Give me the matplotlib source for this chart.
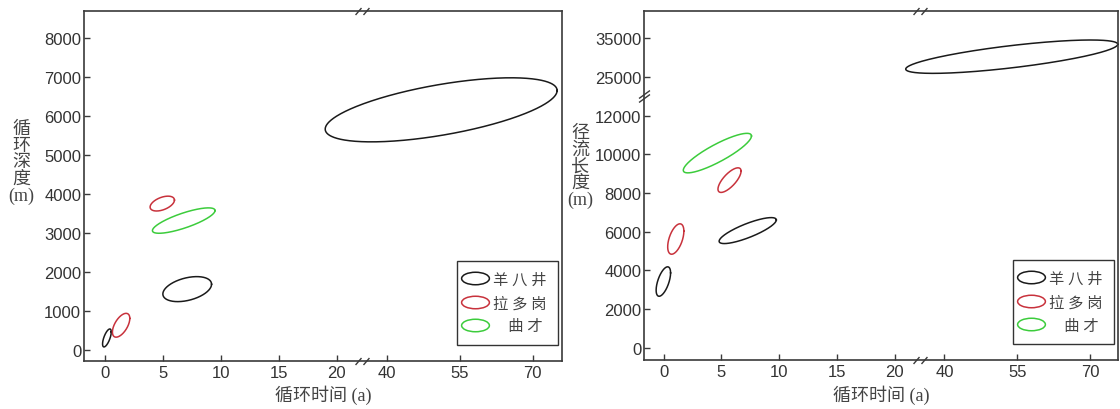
import numpy as np
import matplotlib
matplotlib.use("Agg")
import matplotlib.pyplot as plt
from matplotlib.path import Path
from matplotlib.lines import Line2D

# ---------------- data ----------------
series_names = ["羊八井", "拉多岗", "曲才"]
legend_labels = ["羊 八 井", "拉 多 岗", "\u3000曲 才"]
series_colors = ["#1a1a1a", "#c8323c", "#3ccc3c"]

x_ticks = [0, 5, 10, 15, 20, 40, 55, 70]
left_y_ticks = [0, 1000, 2000, 3000, 4000, 5000, 6000, 7000, 8000]
right_y_ticks = [0, 2000, 4000, 6000, 8000, 10000, 12000, 25000, 35000]

# left panel: cycle time range (a) vs cycle depth range (m)
left_series = [0, 1, 0, 1, 2, 0]
left_t_min = [-0.2, 0.65, 5.0, 3.9, 4.1, 19.0]
left_t_max = [0.55, 2.15, 9.2, 6.0, 9.5, 75.0]
left_v_min = [80, 330, 1240, 3560, 2990, 5330]
left_v_max = [540, 940, 1880, 3940, 3640, 6970]
left_tilt = [48, 55, 67, 62, 38, 53]

# right panel: cycle time range (a) vs runoff length range (m)
right_series = [0, 1, 1, 2, 0, 0]
right_t_min = [-0.65, 0.35, 4.7, 1.7, 4.8, 24.4]
right_t_max = [0.6, 1.75, 6.7, 7.6, 9.75, 75.7]
right_v_min = [2670, 4840, 8030, 9040, 5390, 25880]
right_v_max = [4190, 6410, 9300, 11080, 6730, 34490]
right_tilt = [54, 59, 43, 30, 35, 42]

# ---------------- broken-axis scales ----------------
xb_in = [-1000, 20, 40, 1000]
xb_out = [-1000, 20, 24.3, 24.3 + 960 * 0.42]
def x_fwd(t):
    return np.interp(t, xb_in, xb_out)
def x_inv(s):
    return np.interp(s, xb_out, xb_in)

yb_in = [-1e6, 12000, 25000, 1e6]
yb_out = [-1e6, 12000, 14000, 14000 + (1e6 - 25000) * 0.2]
def y_fwd(v):
    return np.interp(v, yb_in, yb_out)
def y_inv(s):
    return np.interp(s, yb_out, yb_in)

# ---------------- figure ----------------
plt.rcParams['font.family'] = ['Liberation Sans', 'Noto Sans CJK SC']
fig = plt.figure(figsize=(11.2, 4.1), dpi=100)
fig.patch.set_facecolor('white')

axL = fig.add_axes([84 / 1120, 48 / 410, 478 / 1120, 350 / 410])
axR = fig.add_axes([644 / 1120, 49 / 410, 474 / 1120, 349 / 410])

spine_col = '#3a3a3a'
tick_col = '#333333'
cjk_serif = ['Liberation Serif', 'Noto Sans CJK SC']

for ax in (axL, axR):
    ax.set_xscale('function', functions=(x_fwd, x_inv))
    ax.set_xticks(x_ticks)
    ax.set_xticklabels([str(v) for v in x_ticks])
    for sp in ax.spines.values():
        sp.set_color(spine_col)
        sp.set_linewidth(1.2)
    ax.tick_params(direction='in', length=4, width=1.0, color=spine_col,
                   labelsize=12, labelcolor=tick_col, pad=3)
    ax.tick_params(axis='y', pad=2)

axL.set_xlim(-1.8, 76)
axL.set_ylim(-280, 8680)
axL.set_yticks(left_y_ticks)
axL.set_yticklabels([str(v) for v in left_y_ticks])

axR.set_yscale('function', functions=(y_fwd, y_inv))
axR.set_xlim(-1.7, 75.75)
axR.set_ylim(-620, 41975)
axR.set_yticks(right_y_ticks)
axR.set_yticklabels([str(v) for v in right_y_ticks])


def draw_range_ellipse(ax, t0, t1, v0, v1, tilt, color):
    p0 = ax.transData.transform((t0, v0))
    p1 = ax.transData.transform((t1, v1))
    cx, cy = (p0 + p1) / 2
    hx, hy = np.abs(p1 - p0) / 2
    phi = np.linspace(0, 2 * np.pi, 500)
    X = cx + hx * np.cos(phi)
    Y = cy + hy * np.cos(phi - np.radians(tilt))
    d = ax.transData.inverted().transform(np.column_stack([X, Y]))
    ax.plot(d[:, 0], d[:, 1], color=color, lw=1.1, clip_on=False)


for i in range(len(left_series)):
    draw_range_ellipse(axL, left_t_min[i], left_t_max[i], left_v_min[i],
                       left_v_max[i], left_tilt[i], series_colors[left_series[i]])
for i in range(len(right_series)):
    draw_range_ellipse(axR, right_t_min[i], right_t_max[i], right_v_min[i],
                       right_v_max[i], right_tilt[i], series_colors[right_series[i]])

# break marks
slash_h = Path([(-7, -3.5), (-1, 3.5), (1, -3.5), (7, 3.5)],
               [Path.MOVETO, Path.LINETO, Path.MOVETO, Path.LINETO])
slash_v = Path([(-5.5, -6), (5.5, 2), (-5.5, -2), (5.5, 6)],
               [Path.MOVETO, Path.LINETO, Path.MOVETO, Path.LINETO])
for ax in (axL, axR):
    for yy in (0, 1):
        ax.plot([30], [yy], marker=slash_h, markersize=10, mfc='none',
                mec=spine_col, mew=1.0, transform=ax.get_xaxis_transform(),
                clip_on=False, zorder=5)
axR.plot([0], [18500], marker=slash_v, markersize=8.6, mfc='none',
         mec=spine_col, mew=1.0, transform=axR.get_yaxis_transform(),
         clip_on=False, zorder=5)

# axis labels
fig.text(323 / 1120, 1 - 395 / 410, "循环时间 (a)", ha='center', va='center',
         fontsize=13, color='#444444', family=cjk_serif)
fig.text(881 / 1120, 1 - 395 / 410, "循环时间 (a)", ha='center', va='center',
         fontsize=13, color='#444444', family=cjk_serif)
fig.text(21 / 1120, 1 - 163 / 410, "循\n环\n深\n度\n(m)", ha='center', va='center',
         fontsize=13, color='#444444', family=cjk_serif, linespacing=0.98)
fig.text(580 / 1120, 1 - 167 / 410, "径\n流\n长\n度\n(m)", ha='center', va='center',
         fontsize=13, color='#444444', family=cjk_serif, linespacing=0.98)

# legends
ell_path = Path.unit_circle().transformed(
    matplotlib.transforms.Affine2D().scale(1.0, 0.45))
handles = [Line2D([], [], ls='none', marker=ell_path, markersize=20,
                  mfc='none', mec=c, mew=1.1) for c in series_colors]
for ax, anchor in ((axL, (0.992, 0.046)), (axR, (0.992, 0.046))):
    leg = ax.legend(handles, legend_labels, loc='lower right',
                    bbox_to_anchor=anchor, borderaxespad=0, frameon=True,
                    fancybox=False, edgecolor='#333333', framealpha=1,
                    prop={'family': cjk_serif, 'size': 11},
                    handlelength=0.95, handletextpad=0.7, borderpad=0.75,
                    labelspacing=0.6)
    leg.get_frame().set_linewidth(1.0)
    for t in leg.get_texts():
        t.set_color('#444444')

fig.savefig('out.png', dpi=100, facecolor='white')
